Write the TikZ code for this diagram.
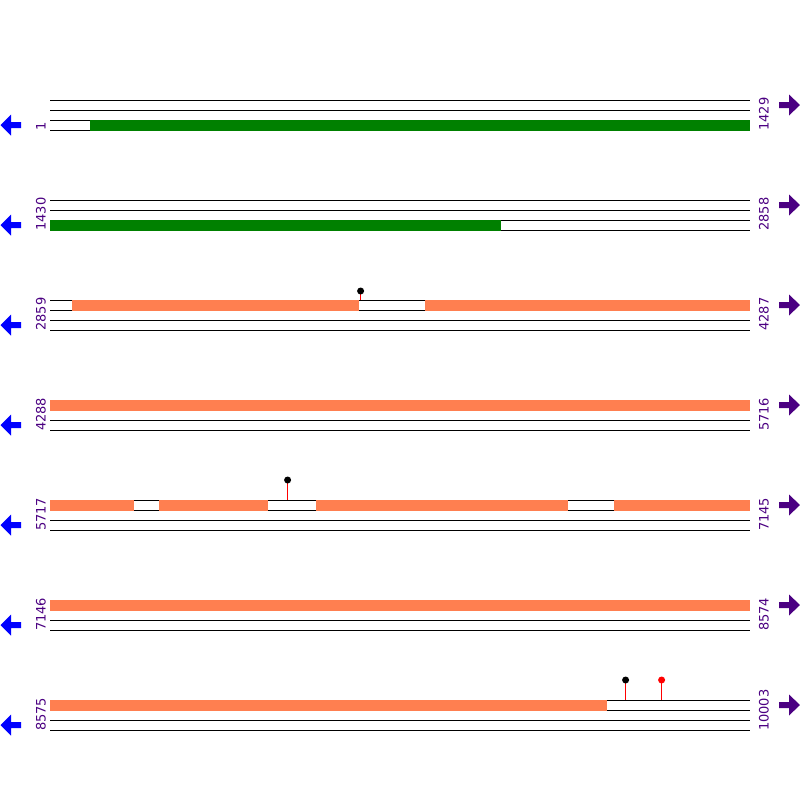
\documentclass[tikz,border=0pt]{standalone}
\usepackage{fontspec}
\setmainfont{DejaVu Sans}
\definecolor{lab}{HTML}{4B0082}
\definecolor{coralc}{HTML}{FF7F50}
\definecolor{greenc}{HTML}{008000}
\definecolor{stemred}{HTML}{FF0000}
\begin{document}
\begin{tikzpicture}[x=1pt,y=-1pt,
  trk/.style={draw=black,line width=1pt},
  gbar/.style={fill=greenc},
  obar/.style={fill=coralc},
  numl/.style={text=lab,rotate=90,anchor=west,inner sep=0pt,font=\fontsize{13pt}{14pt}\selectfont},
  larr/.style={fill=blue},
  rarr/.style={fill=lab},
  lollistem/.style={fill=stemred},
  ballk/.style={circle,fill=black,inner sep=0pt,minimum size=7pt},
  ballr/.style={circle,fill=stemred,inner sep=0pt,minimum size=7pt}]
\useasboundingbox (0,0) rectangle (800,800);
\fill[white] (0,0) rectangle (800,800);
% tracks
\foreach \k in {0,...,6}{
  \foreach \r in {0,10,20,30}{
    \draw[trk] (50,100.5+100*\k+\r) -- (750,100.5+100*\k+\r);
  }
  \fill[larr] (0.5,125+100*\k) -- (11,114.5+100*\k) -- (11,122+100*\k) -- (21,122+100*\k) -- (21,128+100*\k) -- (11,128+100*\k) -- (11,135.5+100*\k) -- cycle;
  \fill[rarr] (800,105+100*\k) -- (789,94.5+100*\k) -- (789,102+100*\k) -- (779,102+100*\k) -- (779,108+100*\k) -- (789,108+100*\k) -- (789,115.5+100*\k) -- cycle;
}
% block 1
\fill[gbar] (90,120) rectangle (750,131);
% block 2
\fill[gbar] (50,220) rectangle (501,231);
% block 3
\fill[obar] (72,300) rectangle (359,310.5);
\fill[obar] (425,300) rectangle (750,310.5);
% block 4
\fill[obar] (50,400) rectangle (750,410.5);
% block 5
\fill[obar] (50,500) rectangle (134,510.5);
\fill[obar] (159,500) rectangle (268,510.5);
\fill[obar] (316,500) rectangle (568,510.5);
\fill[obar] (614,500) rectangle (750,510.5);
% block 6
\fill[obar] (50,600) rectangle (750,610.5);
% block 7
\fill[obar] (50,700) rectangle (607,710.5);
% lollipops
\coordinate (s1) at (360,300);   \coordinate (t1) at (361.2,291);
\coordinate (s2) at (287,500);   \coordinate (t2) at (288.2,480);
\coordinate (s3) at (625,700);   \coordinate (t3) at (626.2,680);
\coordinate (s4) at (661,700);   \coordinate (t4) at (662.2,680);
\fill[lollistem] (s1) rectangle (t1);
\fill[lollistem] (s2) rectangle (t2);
\fill[lollistem] (s3) rectangle (t3);
\fill[lollistem] (s4) rectangle (t4);
\node[ballk] (p1) at (360.6,291) {};
\node[ballk] (p2) at (287.6,480) {};
\node[ballk] (p3) at (625.6,680) {};
\node[ballr] (p4) at (661.6,680) {};
% labels
\node[numl] (l1) at (41,131) {1};
\node[numl] (r1) at (764,131) {1429};
\node[numl] (l2) at (41,231) {1430};
\node[numl] (r2) at (764,231) {2858};
\node[numl] (l3) at (41,331) {2859};
\node[numl] (r3) at (764,331) {4287};
\node[numl] (l4) at (41,431) {4288};
\node[numl] (r4) at (764,431) {5716};
\node[numl] (l5) at (41,531) {5717};
\node[numl] (r5) at (764,531) {7145};
\node[numl] (l6) at (41,631) {7146};
\node[numl] (r6) at (764,631) {8574};
\node[numl] (l7) at (41,731) {8575};
\node[numl] (r7) at (764,731) {10003};
\end{tikzpicture}
\end{document}
